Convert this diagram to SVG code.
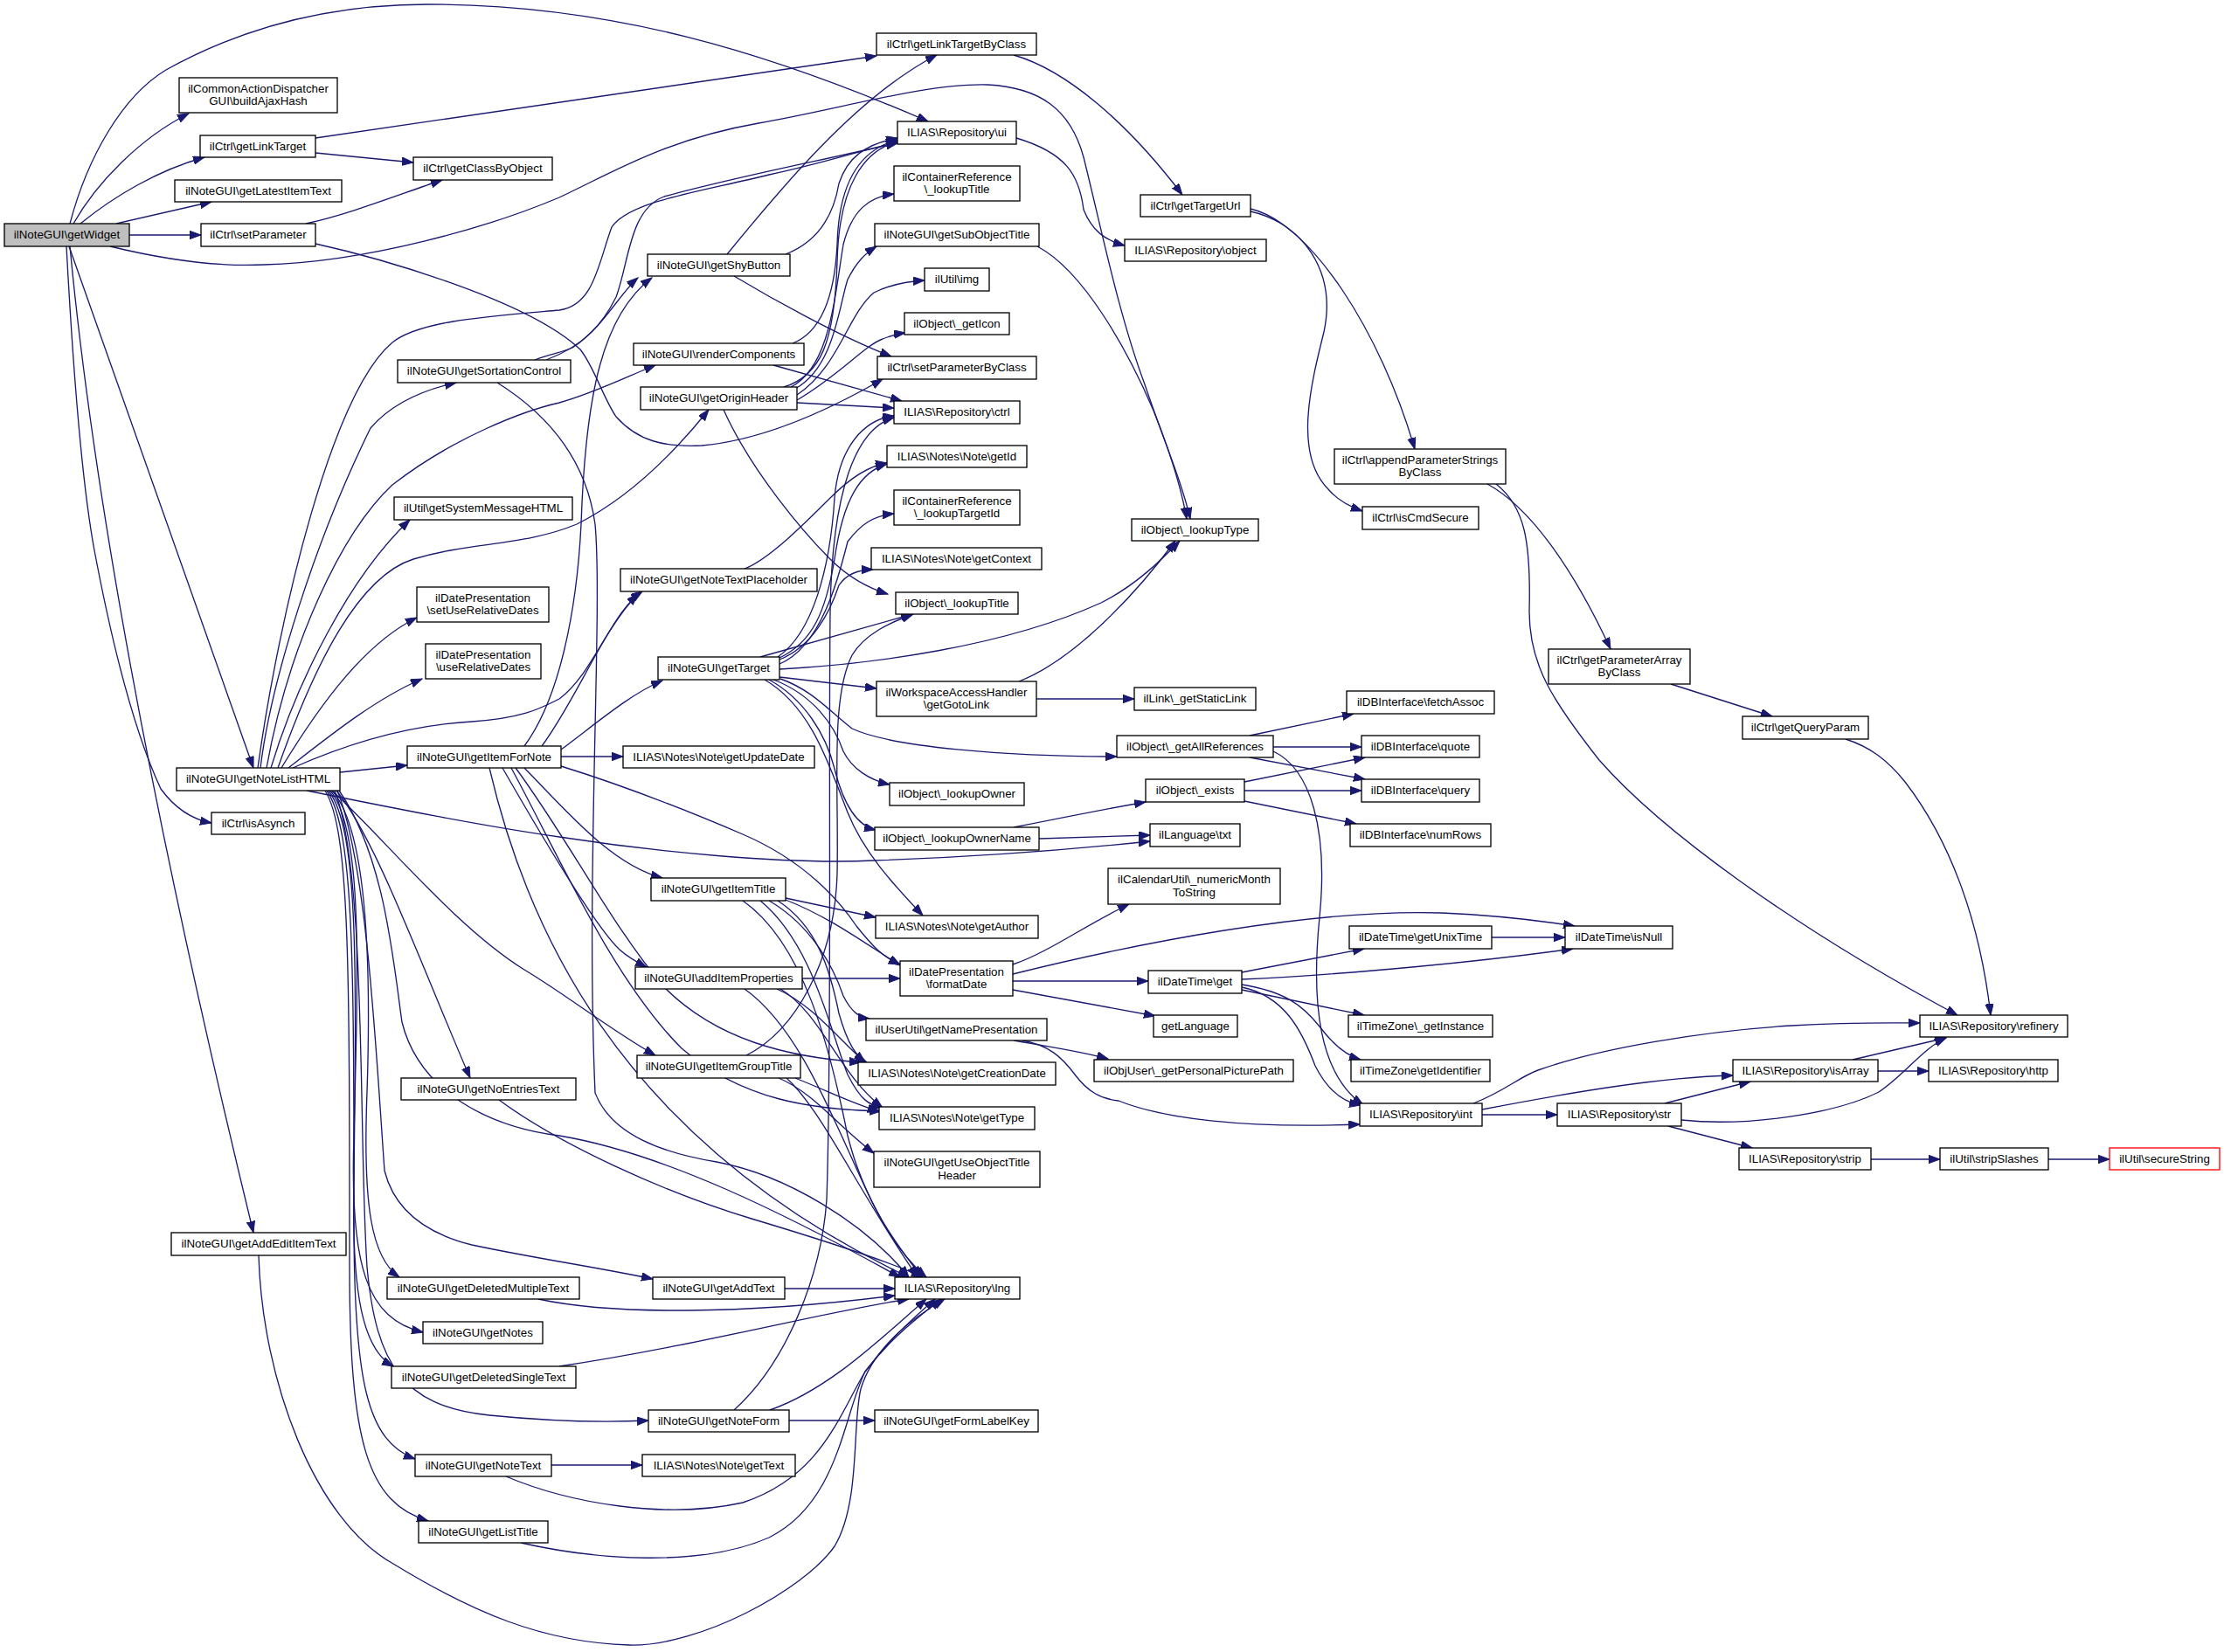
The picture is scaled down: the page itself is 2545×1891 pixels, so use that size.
<svg xmlns="http://www.w3.org/2000/svg" width="2545" height="1891" viewBox="0 0 2545 1891">
<style>
.n rect{fill:#fff;stroke:#000;stroke-width:1.33}
.root rect{fill:#bfbfbf}
.trunc rect{stroke:#ff0000}
text{font-family:"Liberation Sans",Arial,sans-serif;font-size:13.33px;text-anchor:middle;fill:#000}
.e path{fill:none;stroke:#191970;stroke-width:1.33;marker-end:url(#a)}
</style>
<defs>
<marker id="a" markerUnits="userSpaceOnUse" markerWidth="14" markerHeight="10" refX="13" refY="4.7" orient="auto">
<path d="M0,0 L13,4.7 L0,9.4 z" fill="#191970" stroke="#191970" stroke-width="1"/>
</marker>
</defs>
<rect width="2545" height="1891" fill="#fff"/>
<g class="e" id="edges">
<path d="M80,256 C100,180 140,110 190,80 C280,30 380,5 490,5 C700,5 880,60 1062,139"/>
<path d="M84,256 C110,210 160,158 216,130"/>
<path d="M92,256 C130,225 180,195 234,180"/>
<path d="M133,256 L242,231"/>
<path d="M148,269 L230,269"/>
<path d="M126,282 C200,300 260,305 302,303 C420,300 560,260 640,226 C700,198 760,160 868,141 C960,125 1060,95 1130,97 C1190,100 1225,125 1240,180 C1260,260 1280,360 1310,440 C1330,500 1352,550 1362,594"/>
<path d="M79,282 L290,879"/>
<path d="M76,282 C85,450 95,560 108,630 C125,720 150,830 184,903 C200,925 220,938 242,942"/>
<path d="M80,282 C110,600 190,1000 290,1411"/>
<path d="M361,158 L1003,64"/>
<path d="M361,175 L473,186"/>
<path d="M350,256 C400,245 450,225 506,206"/>
<path d="M361,279 C420,292 600,340 664,400 C680,420 690,455 705,477 C730,505 760,512 803,510 C860,505 930,480 1010,434"/>
<path d="M1160,63 C1220,80 1290,140 1353,223"/>
<path d="M1431,239 C1500,255 1580,380 1619,514"/>
<path d="M1431,242 C1490,255 1530,310 1515,380 C1500,440 1480,520 1520,560 C1530,572 1545,580 1559,585"/>
<path d="M1163,158 C1220,175 1235,200 1240,240 C1250,265 1265,275 1287,281"/>
<path d="M1187,282 C1240,310 1290,400 1320,470 C1340,520 1352,560 1358,594"/>
<path d="M1702,554 C1750,580 1800,650 1843,743"/>
<path d="M1712,554 C1745,580 1752,620 1750,700 C1750,760 1775,800 1830,870 C1900,950 2050,1060 2240,1162"/>
<path d="M1912,783 L2028,820"/>
<path d="M2112,846 C2140,855 2160,870 2180,895 C2230,960 2265,1050 2278,1162"/>
<path d="M832,291 C890,220 980,110 1072,63"/>
<path d="M899,291 C940,275 955,240 960,210 C970,180 990,165 1027,158"/>
<path d="M840,316 C880,340 960,385 1020,408"/>
<path d="M907,393 C940,380 955,340 958,280 C960,200 990,170 1027,160"/>
<path d="M885,418 L1032,459"/>
<path d="M897,443 C940,430 955,390 958,300 C960,210 990,172 1027,162"/>
<path d="M905,443 C950,420 955,340 965,280 C975,240 995,225 1023,222"/>
<path d="M910,445 C955,420 960,350 970,320 C980,300 990,290 1003,282"/>
<path d="M912,452 C960,420 970,360 1000,335 C1020,325 1040,322 1058,321"/>
<path d="M912,458 C960,430 990,395 1010,388 C1020,384 1028,382 1036,381"/>
<path d="M912,461 L1023,467"/>
<path d="M828,469 C860,540 920,610 950,640 C970,660 990,672 1016,680"/>
<path d="M612,412 C630,405 645,403 655,398 C690,375 710,335 730,318"/>
<path d="M625,412 C670,395 690,370 705,340 C720,300 720,240 760,225 C850,200 960,180 1027,163"/>
<path d="M569,438 C620,470 670,520 681,600 C690,700 670,1000 681,1251 C700,1300 760,1320 820,1330 C900,1345 990,1400 1040,1462"/>
<path d="M295,879 C320,700 380,450 449,392 C480,367 560,362 640,355 C680,350 685,300 700,260 C720,230 800,220 880,200 C950,185 990,170 1027,164"/>
<path d="M298,879 C310,780 360,620 424,490 C450,460 490,445 522,438"/>
<path d="M305,879 C330,740 390,610 449,555 C520,500 600,470 640,461 C680,450 720,430 750,418"/>
<path d="M310,879 C340,780 400,660 469,595"/>
<path d="M318,879 C360,760 410,660 473,640 C540,620 600,625 660,600 C720,570 770,520 811,469"/>
<path d="M322,879 C370,800 420,735 477,707"/>
<path d="M330,879 C380,840 430,800 483,777"/>
<path d="M335,879 C400,850 470,830 540,826 C600,822 620,810 640,800 C680,770 700,700 735,677"/>
<path d="M389,884 L466,876"/>
<path d="M351,905 C450,925 550,945 640,958 C750,975 900,990 1000,985 C1150,980 1250,970 1316,963"/>
<path d="M380,905 C440,960 520,1060 600,1110 C650,1140 700,1180 750,1208"/>
<path d="M385,905 C430,960 480,1100 538,1234"/>
<path d="M380,905 C420,950 425,1100 420,1250 C415,1380 425,1440 457,1462"/>
<path d="M378,905 C415,950 410,1100 405,1300 C400,1450 420,1510 484,1525"/>
<path d="M376,905 C410,950 408,1100 405,1350 C402,1480 415,1545 450,1564"/>
<path d="M374,905 C405,950 405,1100 405,1400 C405,1580 420,1650 475,1670"/>
<path d="M372,905 C400,950 400,1100 400,1450 C400,1650 420,1720 490,1741"/>
<path d="M386,905 C420,990 430,1200 440,1340 C450,1380 480,1410 540,1425 C610,1440 680,1450 747,1464"/>
<path d="M383,905 C420,1000 410,1300 420,1450 C430,1560 460,1610 560,1620 C640,1628 700,1628 742,1626"/>
<path d="M388,905 C440,980 450,1100 460,1170 C480,1250 560,1290 640,1300 C760,1320 900,1390 1030,1462"/>
<path d="M600,854 C640,800 660,700 665,600 C670,450 690,360 746,318"/>
<path d="M620,854 C660,800 690,720 730,680"/>
<path d="M642,858 C680,830 720,795 758,779"/>
<path d="M642,866 L713,866"/>
<path d="M600,879 C650,930 700,990 758,1005"/>
<path d="M575,879 C610,940 680,1060 709,1087 C720,1097 730,1102 740,1107"/>
<path d="M642,877 C700,895 780,925 850,955 C920,985 960,1030 980,1060 C1000,1085 1010,1095 1030,1104"/>
<path d="M560,879 C600,1050 700,1300 1040,1462"/>
<path d="M590,879 C650,960 700,1060 760,1130 C820,1190 900,1210 985,1216"/>
<path d="M585,879 C640,980 700,1120 780,1200 C850,1260 930,1270 1008,1272"/>
<path d="M870,752 L1044,703"/>
<path d="M892,755 C930,740 950,700 960,670 C970,655 985,652 999,652"/>
<path d="M892,753 C930,735 945,700 955,640 C965,570 985,540 1015,531"/>
<path d="M890,752 C930,725 950,650 955,570 C960,510 990,480 1023,476"/>
<path d="M892,766 C1000,760 1150,740 1260,690 C1300,670 1330,640 1350,619"/>
<path d="M892,775 L1003,788"/>
<path d="M893,777 C930,790 950,815 975,834 C1020,855 1150,866 1278,866"/>
<path d="M885,778 C930,795 955,830 965,860 C975,880 995,893 1018,898"/>
<path d="M880,778 C920,800 945,840 955,880 C965,920 980,945 1002,950"/>
<path d="M875,778 C930,810 950,880 970,930 C990,980 1030,1020 1056,1048"/>
<path d="M892,760 C940,740 960,660 970,620 C985,600 1000,590 1023,588"/>
<path d="M852,651 C880,640 920,600 950,570 C975,545 995,533 1015,530"/>
<path d="M1186,800 L1298,800"/>
<path d="M1166,780 C1230,755 1300,680 1345,619"/>
<path d="M1430,842 L1549,817"/>
<path d="M1457,855 L1558,855"/>
<path d="M1430,867 L1562,892"/>
<path d="M1457,860 C1500,880 1520,950 1510,1050 C1500,1150 1510,1230 1560,1265"/>
<path d="M1424,895 L1562,867"/>
<path d="M1424,905 L1558,905"/>
<path d="M1424,917 L1552,943"/>
<path d="M1160,947 C1220,935 1270,925 1311,918"/>
<path d="M1189,960 L1316,956"/>
<path d="M1159,1104 C1200,1090 1240,1060 1292,1035"/>
<path d="M1159,1115 C1300,1080 1500,1040 1650,1045 C1720,1048 1770,1055 1802,1060"/>
<path d="M1159,1123 L1314,1123"/>
<path d="M1159,1133 L1322,1163"/>
<path d="M1421,1113 L1561,1086"/>
<path d="M1421,1121 C1550,1115 1700,1100 1800,1086"/>
<path d="M1421,1133 L1561,1162"/>
<path d="M1421,1127 C1470,1135 1490,1150 1510,1175 C1525,1195 1540,1208 1557,1213"/>
<path d="M1421,1130 C1470,1140 1490,1180 1505,1220 C1520,1250 1540,1262 1557,1265"/>
<path d="M1707,1073 L1791,1073"/>
<path d="M1160,1191 C1200,1198 1240,1204 1268,1212"/>
<path d="M1170,1191 C1200,1196 1215,1210 1230,1230 C1245,1250 1260,1258 1280,1260 C1330,1280 1420,1292 1556,1287"/>
<path d="M1696,1276 L1782,1276"/>
<path d="M1686,1263 C1720,1250 1740,1232 1760,1225 C1830,1200 1950,1180 2050,1174 C2120,1170 2160,1171 2197,1171"/>
<path d="M1696,1270 C1800,1250 1900,1233 1983,1231"/>
<path d="M1905,1263 L2003,1238"/>
<path d="M1924,1282 C2000,1290 2100,1275 2150,1250 C2180,1230 2200,1200 2227,1188"/>
<path d="M1909,1289 L2005,1314"/>
<path d="M2120,1213 L2227,1188"/>
<path d="M2149,1226 L2207,1226"/>
<path d="M2141,1327 L2220,1327"/>
<path d="M2344,1327 L2414,1327"/>
<path d="M899,1028 L1002,1050"/>
<path d="M899,1030 C950,1050 990,1080 1030,1105"/>
<path d="M880,1031 C930,1060 955,1110 965,1140 C975,1160 985,1165 995,1166"/>
<path d="M890,1031 C935,1060 950,1110 960,1160 C970,1195 980,1210 992,1216"/>
<path d="M870,1031 C930,1080 950,1180 970,1230 C985,1260 995,1265 1010,1268"/>
<path d="M850,1031 C920,1080 950,1200 970,1300 C990,1380 1030,1430 1055,1462"/>
<path d="M918,1120 L1030,1120"/>
<path d="M889,1132 C930,1150 960,1190 990,1216"/>
<path d="M893,1132 C940,1160 960,1230 1010,1268"/>
<path d="M852,1132 C920,1180 960,1300 1000,1380 C1020,1420 1040,1445 1060,1462"/>
<path d="M854,1208 C910,1180 955,1100 958,1000 C960,900 950,800 975,750 C990,725 1020,712 1045,703"/>
<path d="M891,1234 C930,1250 960,1290 1000,1320"/>
<path d="M900,1234 C940,1270 980,1360 1050,1462"/>
<path d="M910,1234 C950,1250 980,1265 1006,1272"/>
<path d="M898,1475 L1024,1475"/>
<path d="M571,1259 C640,1310 760,1365 860,1395 C960,1425 1020,1445 1056,1462"/>
<path d="M616,1487 C700,1505 850,1505 1024,1483"/>
<path d="M640,1564 C800,1540 950,1500 1040,1487"/>
<path d="M631,1677 L735,1677"/>
<path d="M579,1690 C650,1720 760,1740 850,1720 C940,1690 960,1620 990,1570 C1020,1530 1050,1505 1070,1487"/>
<path d="M596,1766 C680,1785 800,1795 880,1760 C960,1720 965,1620 990,1570 C1020,1530 1055,1505 1077,1487"/>
<path d="M296,1437 C300,1580 360,1740 450,1790 C540,1845 620,1880 720,1883 C800,1885 920,1820 955,1770 C985,1720 975,1630 985,1590 C1000,1540 1050,1505 1081,1487"/>
<path d="M903,1626 L1001,1626"/>
<path d="M881,1614 C950,1590 1010,1530 1060,1487"/>
<path d="M840,1614 C900,1560 940,1460 946,1373 C952,1200 948,900 950,700 C952,560 980,490 1023,478"/>
</g>
<g id="n_getWidget" class="n root"><rect x="5" y="256" width="143" height="26"/><text x="76.5" y="273.4">ilNoteGUI\getWidget</text></g>
<g id="n_buildAjaxHash" class="n"><rect x="205" y="89" width="181" height="40"/><text x="295.5" y="105.7">ilCommonActionDispatcher</text><text x="295.5" y="120.4">GUI\buildAjaxHash</text></g>
<g id="n_getLinkTarget" class="n"><rect x="229" y="155" width="132" height="25"/><text x="295" y="171.9">ilCtrl\getLinkTarget</text></g>
<g id="n_getClassByObject" class="n"><rect x="473" y="180" width="159" height="26"/><text x="552.5" y="197.4">ilCtrl\getClassByObject</text></g>
<g id="n_getLatestItemText" class="n"><rect x="200" y="206" width="191" height="25"/><text x="295.5" y="222.9">ilNoteGUI\getLatestItemText</text></g>
<g id="n_setParameter" class="n"><rect x="230" y="256" width="131" height="26"/><text x="295.5" y="273.4">ilCtrl\setParameter</text></g>
<g id="n_getNoteListHTML" class="n"><rect x="202" y="879" width="187" height="26"/><text x="295.5" y="896.4">ilNoteGUI\getNoteListHTML</text></g>
<g id="n_isAsynch" class="n"><rect x="242" y="930" width="107" height="25"/><text x="295.5" y="946.9">ilCtrl\isAsynch</text></g>
<g id="n_getAddEditItemText" class="n"><rect x="196" y="1411" width="200" height="26"/><text x="296" y="1428.4">ilNoteGUI\getAddEditItemText</text></g>
<g id="n_getLinkTargetByClass" class="n"><rect x="1003" y="38" width="183" height="25"/><text x="1094.5" y="54.9">ilCtrl\getLinkTargetByClass</text></g>
<g id="n_ui" class="n"><rect x="1027" y="139" width="136" height="26"/><text x="1095" y="156.4">ILIAS\Repository\ui</text></g>
<g id="n_crLookupTitle" class="n"><rect x="1023" y="190" width="144" height="40"/><text x="1095" y="206.7">ilContainerReference</text><text x="1095" y="221.4">\_lookupTitle</text></g>
<g id="n_getSubObjectTitle" class="n"><rect x="1001" y="256" width="188" height="26"/><text x="1095" y="273.4">ilNoteGUI\getSubObjectTitle</text></g>
<g id="n_img" class="n"><rect x="1058" y="307" width="74" height="26"/><text x="1095" y="324.4">ilUtil\img</text></g>
<g id="n_getIcon" class="n"><rect x="1035" y="358" width="120" height="25"/><text x="1095" y="374.9">ilObject\_getIcon</text></g>
<g id="n_setParameterByClass" class="n"><rect x="1004" y="408" width="182" height="26"/><text x="1095" y="425.4">ilCtrl\setParameterByClass</text></g>
<g id="n_ctrl" class="n"><rect x="1023" y="459" width="144" height="26"/><text x="1095" y="476.4">ILIAS\Repository\ctrl</text></g>
<g id="n_getId" class="n"><rect x="1015" y="510" width="160" height="25"/><text x="1095" y="526.9">ILIAS\Notes\Note\getId</text></g>
<g id="n_crLookupTargetId" class="n"><rect x="1023" y="561" width="144" height="40"/><text x="1095" y="577.7">ilContainerReference</text><text x="1095" y="592.4">\_lookupTargetId</text></g>
<g id="n_getContext" class="n"><rect x="997" y="627" width="195" height="25"/><text x="1094.5" y="643.9">ILIAS\Notes\Note\getContext</text></g>
<g id="n_getShyButton" class="n"><rect x="741" y="291" width="163" height="25"/><text x="822.5" y="307.9">ilNoteGUI\getShyButton</text></g>
<g id="n_renderComponents" class="n"><rect x="725" y="393" width="195" height="25"/><text x="822.5" y="409.9">ilNoteGUI\renderComponents</text></g>
<g id="n_getOriginHeader" class="n"><rect x="733" y="443" width="179" height="26"/><text x="822.5" y="460.4">ilNoteGUI\getOriginHeader</text></g>
<g id="n_getSortationControl" class="n"><rect x="455" y="412" width="198" height="26"/><text x="554" y="429.4">ilNoteGUI\getSortationControl</text></g>
<g id="n_getSystemMessageHTML" class="n"><rect x="451" y="569" width="204" height="26"/><text x="553" y="586.4">ilUtil\getSystemMessageHTML</text></g>
<g id="n_setUseRelativeDates" class="n"><rect x="477" y="672" width="151" height="40"/><text x="552.5" y="688.7">ilDatePresentation</text><text x="552.5" y="703.4">\setUseRelativeDates</text></g>
<g id="n_useRelativeDates" class="n"><rect x="487" y="737" width="132" height="40"/><text x="553" y="753.7">ilDatePresentation</text><text x="553" y="768.4">\useRelativeDates</text></g>
<g id="n_getItemForNote" class="n"><rect x="466" y="854" width="176" height="25"/><text x="554" y="870.9">ilNoteGUI\getItemForNote</text></g>
<g id="n_getNoEntriesText" class="n"><rect x="459" y="1234" width="200" height="25"/><text x="559" y="1250.9">ilNoteGUI\getNoEntriesText</text></g>
<g id="n_getDeletedMultipleText" class="n"><rect x="443" y="1462" width="220" height="25"/><text x="553" y="1478.9">ilNoteGUI\getDeletedMultipleText</text></g>
<g id="n_getNotes" class="n"><rect x="484" y="1513" width="137" height="25"/><text x="552.5" y="1529.9">ilNoteGUI\getNotes</text></g>
<g id="n_getDeletedSingleText" class="n"><rect x="448" y="1564" width="211" height="25"/><text x="553.5" y="1580.9">ilNoteGUI\getDeletedSingleText</text></g>
<g id="n_getNoteText" class="n"><rect x="475" y="1665" width="156" height="25"/><text x="553" y="1681.9">ilNoteGUI\getNoteText</text></g>
<g id="n_getListTitle" class="n"><rect x="479" y="1741" width="148" height="25"/><text x="553" y="1757.9">ilNoteGUI\getListTitle</text></g>
<g id="n_getNoteTextPlaceholder" class="n"><rect x="710" y="651" width="225" height="26"/><text x="822.5" y="668.4">ilNoteGUI\getNoteTextPlaceholder</text></g>
<g id="n_lookupTitle" class="n"><rect x="1025" y="678" width="140" height="25"/><text x="1095" y="694.9">ilObject\_lookupTitle</text></g>
<g id="n_getTarget" class="n"><rect x="753" y="752" width="139" height="26"/><text x="822.5" y="769.4">ilNoteGUI\getTarget</text></g>
<g id="n_getGotoLink" class="n"><rect x="1003" y="780" width="183" height="40"/><text x="1094.5" y="796.7">ilWorkspaceAccessHandler</text><text x="1094.5" y="811.4">\getGotoLink</text></g>
<g id="n_getUpdateDate" class="n"><rect x="713" y="854" width="219" height="25"/><text x="822.5" y="870.9">ILIAS\Notes\Note\getUpdateDate</text></g>
<g id="n_lookupOwner" class="n"><rect x="1018" y="896" width="154" height="26"/><text x="1095" y="913.4">ilObject\_lookupOwner</text></g>
<g id="n_lookupOwnerName" class="n"><rect x="1001" y="947" width="188" height="26"/><text x="1095" y="964.4">ilObject\_lookupOwnerName</text></g>
<g id="n_getItemTitle" class="n"><rect x="745" y="1005" width="154" height="26"/><text x="822" y="1022.4">ilNoteGUI\getItemTitle</text></g>
<g id="n_getAuthor" class="n"><rect x="1002" y="1048" width="186" height="26"/><text x="1095" y="1065.4">ILIAS\Notes\Note\getAuthor</text></g>
<g id="n_formatDate" class="n"><rect x="1030" y="1100" width="129" height="40"/><text x="1094.5" y="1116.7">ilDatePresentation</text><text x="1094.5" y="1131.4">\formatDate</text></g>
<g id="n_addItemProperties" class="n"><rect x="727" y="1107" width="191" height="25"/><text x="822.5" y="1123.9">ilNoteGUI\addItemProperties</text></g>
<g id="n_getNamePresentation" class="n"><rect x="991" y="1166" width="207" height="25"/><text x="1094.5" y="1182.9">ilUserUtil\getNamePresentation</text></g>
<g id="n_getItemGroupTitle" class="n"><rect x="729" y="1208" width="187" height="26"/><text x="822.5" y="1225.4">ilNoteGUI\getItemGroupTitle</text></g>
<g id="n_getCreationDate" class="n"><rect x="982" y="1216" width="226" height="26"/><text x="1095" y="1233.4">ILIAS\Notes\Note\getCreationDate</text></g>
<g id="n_getType" class="n"><rect x="1006" y="1267" width="178" height="26"/><text x="1095" y="1284.4">ILIAS\Notes\Note\getType</text></g>
<g id="n_getUseObjectTitleHeader" class="n"><rect x="1000" y="1318" width="190" height="41"/><text x="1095" y="1335.2">ilNoteGUI\getUseObjectTitle</text><text x="1095" y="1349.9">Header</text></g>
<g id="n_lng" class="n"><rect x="1024" y="1462" width="143" height="25"/><text x="1095.5" y="1478.9">ILIAS\Repository\lng</text></g>
<g id="n_getAddText" class="n"><rect x="747" y="1462" width="151" height="25"/><text x="822.5" y="1478.9">ilNoteGUI\getAddText</text></g>
<g id="n_getNoteForm" class="n"><rect x="742" y="1614" width="161" height="25"/><text x="822.5" y="1630.9">ilNoteGUI\getNoteForm</text></g>
<g id="n_getFormLabelKey" class="n"><rect x="1001" y="1614" width="187" height="25"/><text x="1094.5" y="1630.9">ilNoteGUI\getFormLabelKey</text></g>
<g id="n_getText" class="n"><rect x="735" y="1665" width="175" height="25"/><text x="822.5" y="1681.9">ILIAS\Notes\Note\getText</text></g>
<g id="n_getTargetUrl" class="n"><rect x="1305" y="223" width="126" height="25"/><text x="1368" y="239.9">ilCtrl\getTargetUrl</text></g>
<g id="n_object" class="n"><rect x="1287" y="274" width="162" height="25"/><text x="1368" y="290.9">ILIAS\Repository\object</text></g>
<g id="n_appendParameterStringsByClass" class="n"><rect x="1527" y="514" width="196" height="40"/><text x="1625" y="530.7">ilCtrl\appendParameterStrings</text><text x="1625" y="545.4">ByClass</text></g>
<g id="n_isCmdSecure" class="n"><rect x="1559" y="580" width="133" height="26"/><text x="1625.5" y="597.4">ilCtrl\isCmdSecure</text></g>
<g id="n_lookupType" class="n"><rect x="1295" y="594" width="145" height="25"/><text x="1367.5" y="610.9">ilObject\_lookupType</text></g>
<g id="n_getStaticLink" class="n"><rect x="1298" y="787" width="139" height="26"/><text x="1367.5" y="804.4">ilLink\_getStaticLink</text></g>
<g id="n_fetchAssoc" class="n"><rect x="1541" y="791" width="169" height="26"/><text x="1625.5" y="808.4">ilDBInterface\fetchAssoc</text></g>
<g id="n_getAllReferences" class="n"><rect x="1278" y="842" width="179" height="25"/><text x="1367.5" y="858.9">ilObject\_getAllReferences</text></g>
<g id="n_quote" class="n"><rect x="1558" y="842" width="135" height="25"/><text x="1625.5" y="858.9">ilDBInterface\quote</text></g>
<g id="n_exists" class="n"><rect x="1311" y="892" width="113" height="26"/><text x="1367.5" y="909.4">ilObject\_exists</text></g>
<g id="n_query" class="n"><rect x="1558" y="892" width="135" height="26"/><text x="1625.5" y="909.4">ilDBInterface\query</text></g>
<g id="n_txt" class="n"><rect x="1316" y="943" width="103" height="26"/><text x="1367.5" y="960.4">ilLanguage\txt</text></g>
<g id="n_numRows" class="n"><rect x="1545" y="943" width="161" height="26"/><text x="1625.5" y="960.4">ilDBInterface\numRows</text></g>
<g id="n_numericMonth" class="n"><rect x="1268" y="994" width="197" height="41"/><text x="1366.5" y="1011.2">ilCalendarUtil\_numericMonth</text><text x="1366.5" y="1025.9">ToString</text></g>
<g id="n_getUnixTime" class="n"><rect x="1544" y="1060" width="163" height="26"/><text x="1625.5" y="1077.4">ilDateTime\getUnixTime</text></g>
<g id="n_isNull" class="n"><rect x="1791" y="1060" width="123" height="26"/><text x="1852.5" y="1077.4">ilDateTime\isNull</text></g>
<g id="n_dtGet" class="n"><rect x="1314" y="1111" width="107" height="26"/><text x="1367.5" y="1128.4">ilDateTime\get</text></g>
<g id="n_getLanguage" class="n"><rect x="1320" y="1162" width="96" height="25"/><text x="1368" y="1178.9">getLanguage</text></g>
<g id="n_getInstance" class="n"><rect x="1543" y="1162" width="165" height="25"/><text x="1625.5" y="1178.9">ilTimeZone\_getInstance</text></g>
<g id="n_getPersonalPicturePath" class="n"><rect x="1252" y="1213" width="228" height="25"/><text x="1366" y="1229.9">ilObjUser\_getPersonalPicturePath</text></g>
<g id="n_getIdentifier" class="n"><rect x="1546" y="1213" width="159" height="25"/><text x="1625.5" y="1229.9">ilTimeZone\getIdentifier</text></g>
<g id="n_int" class="n"><rect x="1556" y="1263" width="140" height="26"/><text x="1626" y="1280.4">ILIAS\Repository\int</text></g>
<g id="n_str" class="n"><rect x="1782" y="1263" width="142" height="26"/><text x="1853" y="1280.4">ILIAS\Repository\str</text></g>
<g id="n_getParameterArrayByClass" class="n"><rect x="1772" y="743" width="162" height="40"/><text x="1853" y="759.7">ilCtrl\getParameterArray</text><text x="1853" y="774.4">ByClass</text></g>
<g id="n_getQueryParam" class="n"><rect x="1994" y="820" width="144" height="26"/><text x="2066" y="837.4">ilCtrl\getQueryParam</text></g>
<g id="n_refinery" class="n"><rect x="2197" y="1162" width="169" height="25"/><text x="2281.5" y="1178.9">ILIAS\Repository\refinery</text></g>
<g id="n_isArray" class="n"><rect x="1983" y="1213" width="166" height="25"/><text x="2066" y="1229.9">ILIAS\Repository\isArray</text></g>
<g id="n_http" class="n"><rect x="2207" y="1213" width="148" height="25"/><text x="2281" y="1229.9">ILIAS\Repository\http</text></g>
<g id="n_strip" class="n"><rect x="1990" y="1314" width="151" height="25"/><text x="2065.5" y="1330.9">ILIAS\Repository\strip</text></g>
<g id="n_stripSlashes" class="n"><rect x="2220" y="1314" width="124" height="25"/><text x="2282" y="1330.9">ilUtil\stripSlashes</text></g>
<g id="n_secureString" class="n trunc"><rect x="2414" y="1314" width="126" height="25"/><text x="2477" y="1330.9">ilUtil\secureString</text></g>
</svg>
